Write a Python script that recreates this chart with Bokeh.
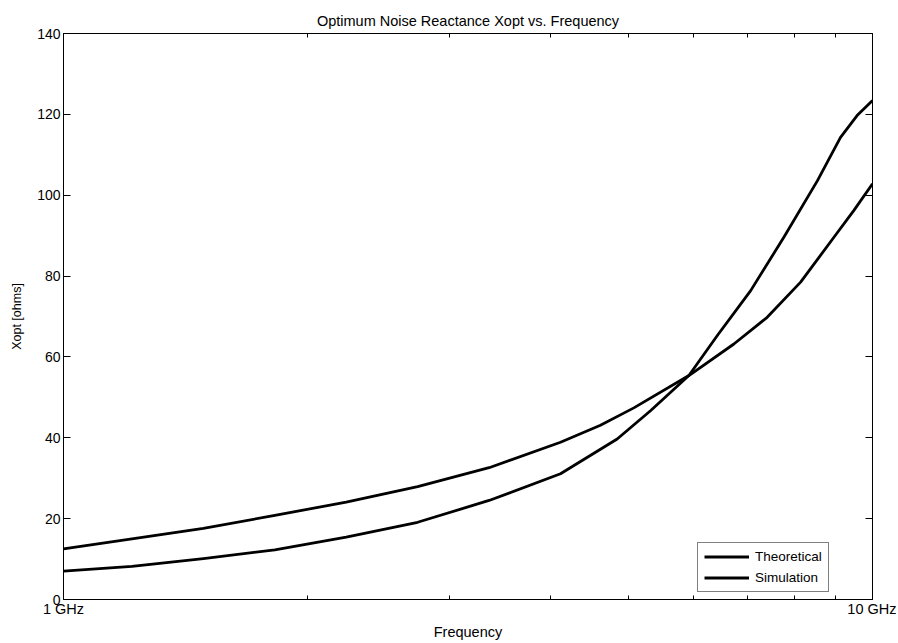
from bokeh.plotting import figure
from bokeh.models import FixedTicker, LinearAxis, LogAxis, Range1d
from bokeh.embed import file_html
from bokeh.resources import INLINE

# ---- data ----
freq_theoretical = [1.0, 1.215, 1.489, 1.825, 2.236, 2.740, 3.358, 4.115, 4.61, 5.07,
                    5.93, 6.74, 7.41, 8.15, 8.96, 9.48, 10.0]
xopt_theoretical = [12.5, 15.0, 17.6, 20.8, 24.1, 27.9, 32.6, 38.9, 43.1, 47.4,
                    55.4, 63.2, 69.8, 78.5, 89.6, 96.2, 102.8]
freq_simulation = [1.0, 1.215, 1.489, 1.825, 2.236, 2.740, 3.358, 4.115, 4.835, 5.316,
                   5.93, 6.43, 7.07, 7.77, 8.55, 9.13, 9.57, 10.0]
xopt_simulation = [7.0, 8.2, 10.1, 12.3, 15.4, 19.1, 24.5, 31.1, 39.7, 46.7,
                   55.4, 65.3, 76.4, 89.6, 103.6, 114.3, 119.7, 123.4]
x_major_ticks = [1, 10]
x_minor_ticks = [2, 3, 4, 5, 6, 7, 8, 9]
x_tick_labels = ["1 GHz", "10 GHz"]
y_ticks = [0, 20, 40, 60, 80, 100, 120, 140]

FONT = "Liberation Sans"

p = figure(width=896, height=643, x_axis_type="log",
           x_range=Range1d(1, 10), y_range=Range1d(0, 140),
           output_backend="svg", toolbar_location=None,
           min_border_left=63, min_border_right=24,
           min_border_top=33, min_border_bottom=44)

p.title.text = "Optimum Noise Reactance Xopt vs. Frequency"
p.title.align = "center"
p.title.text_font = FONT
p.title.text_font_size = "14.5px"
p.title.text_font_style = "normal"
p.title.text_color = "black"
p.title.standoff = 9

p.outline_line_color = "black"
p.outline_line_width = 1
p.grid.visible = False
p.background_fill_color = "white"
p.border_fill_color = "white"

p.line(freq_theoretical, xopt_theoretical, line_color="black", line_width=2.8,
       line_join="round", legend_label="Theoretical")
p.line(freq_simulation, xopt_simulation, line_color="black", line_width=2.8,
       line_join="round", legend_label="Simulation")

overrides = {t: lab for t, lab in zip(x_major_ticks, x_tick_labels)}

xa = p.xaxis[0]
xa.ticker = FixedTicker(ticks=x_major_ticks, minor_ticks=x_minor_ticks)
xa.major_label_overrides = overrides
xa.axis_label = "Frequency"

ya = p.yaxis[0]
ya.ticker = FixedTicker(ticks=y_ticks, minor_ticks=[])
ya.axis_label = "Xopt [ohms]"

for ax in (xa, ya):
    ax.axis_label_text_font = FONT
    ax.axis_label_text_font_style = "normal"
    ax.axis_label_text_color = "black"
    ax.major_label_text_font = FONT
    ax.major_label_text_color = "black"
    ax.axis_line_color = "black"
    ax.major_tick_line_color = "black"
    ax.minor_tick_line_color = "black"
    ax.major_tick_out = 0
    ax.minor_tick_out = 0

ya.axis_label_text_font_size = "12.5px"
ya.major_label_text_font_size = "14px"
ya.major_label_standoff = 3
ya.major_tick_in = 7
ya.axis_label_standoff = 10

xa.axis_label_text_font_size = "14.5px"
xa.major_label_text_font_size = "14.5px"
xa.major_label_standoff = 1
xa.major_tick_in = 0
xa.minor_tick_in = 4
xa.axis_label_standoff = 4

top = LogAxis(ticker=FixedTicker(ticks=x_major_ticks, minor_ticks=x_minor_ticks),
              major_label_text_font_size="1px", major_label_text_alpha=0,
              major_tick_in=0, major_tick_out=0,
              minor_tick_in=4, minor_tick_out=0, major_label_standoff=0,
              axis_line_color="black", minor_tick_line_color="black")
p.add_layout(top, "above")
right = LinearAxis(ticker=FixedTicker(ticks=y_ticks, minor_ticks=[]),
                   major_label_text_font_size="1px", major_label_text_alpha=0,
                   major_tick_in=7, major_tick_out=0,
                   minor_tick_in=0, minor_tick_out=0, major_label_standoff=0,
                   axis_line_color="black", major_tick_line_color="black")
p.add_layout(right, "right")

lg = p.legend[0]
lg.location = (634, 7)
lg.border_line_color = "black"
lg.border_line_width = 1
lg.background_fill_color = "white"
lg.background_fill_alpha = 1
lg.label_text_font = FONT
lg.label_text_font_size = "13.5px"
lg.label_text_color = "black"
lg.glyph_width = 45
lg.glyph_height = 15
lg.label_height = 15
lg.label_standoff = 6
lg.padding = 6
lg.spacing = 6
lg.margin = 0

open("out.html", "w").write(file_html(p, INLINE))
